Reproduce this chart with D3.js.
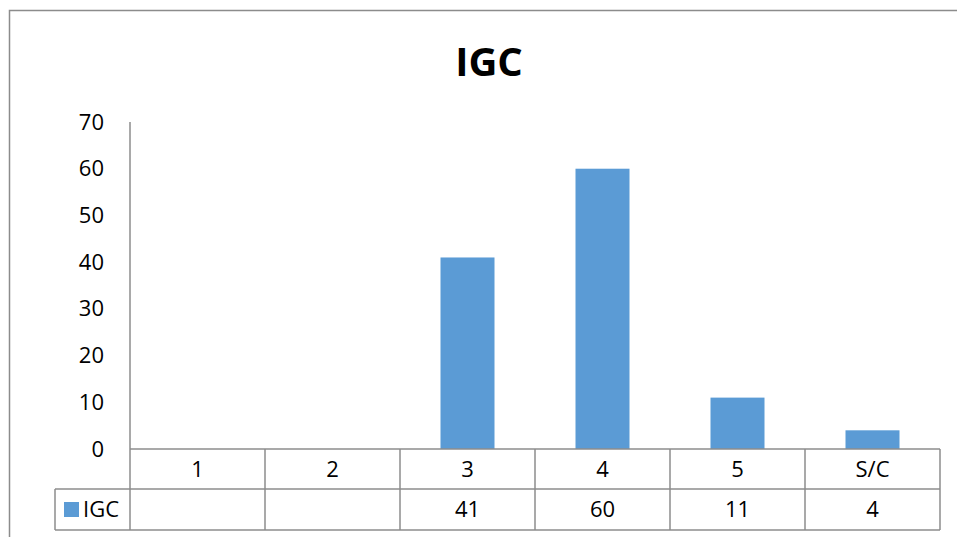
<!DOCTYPE html>
<html>
<head>
<meta charset="utf-8">
<script src="https://cdn.jsdelivr.net/npm/d3@7"></script>
<style>
  html, body { margin: 0; padding: 0; background: #fff; }
  svg { display: block; }
  text { font-family: "Open Sans", "Liberation Sans", sans-serif; fill: #000; }
</style>
</head>
<body>
<script>
// Series data
const categories = ["1", "2", "3", "4", "5", "S/C"];
const values = [null, null, 41, 60, 11, 4];
const seriesName = "IGC";
const chartTitle = "IGC";
const yTicks = [0, 10, 20, 30, 40, 50, 60, 70];

const W = 957, H = 537;
const gridColor = "#8c8c8c";
const barColor = "#5b9bd5";

const svg = d3.select("body").append("svg").attr("width", W).attr("height", H);

// Outer chart frame
svg.append("path")
  .attr("d", `M9.5,${H + 2}V10.5H${W + 2}`)
  .attr("fill", "none").attr("stroke", "#8c8c8c").attr("stroke-width", 1.5);

const plotLeft = 130, plotRight = 940, plotTop = 122, plotBase = 449;
const row1 = 489, row2 = 530, legendLeft = 55;

const xCell = d3.scaleBand().domain(categories).range([plotLeft, plotRight]).padding(0);
const xBar = d3.scaleBand().domain(categories).range([plotLeft, plotRight])
  .paddingInner(0.6).paddingOuter(0.3);
const y = d3.scaleLinear().domain([0, 70]).range([plotBase, plotTop]);

// Title
svg.append("text")
  .attr("x", 489).attr("y", 76)
  .attr("text-anchor", "middle")
  .attr("font-size", 40).attr("font-weight", "bold")
  .text(chartTitle);

// Value axis labels
const yAxis = d3.axisLeft(y).tickValues(yTicks).tickSize(0).tickPadding(26);
const gy = svg.append("g").attr("transform", `translate(${plotLeft},0)`).call(yAxis);
gy.select(".domain").remove();
gy.selectAll("text").attr("font-size", 22).attr("font-family", "Open Sans, sans-serif").attr("fill", "#000");

const rows = categories.map((c, i) => ({ c, v: values[i] })).filter(d => d.v != null);

// Bars
svg.append("g").selectAll("rect")
  .data(rows)
  .join("rect")
  .attr("x", d => xBar(d.c))
  .attr("width", xBar.bandwidth())
  .attr("y", d => y(d.v))
  .attr("height", d => y(0) - y(d.v))
  .attr("fill", barColor);

// Data table grid
const grid = svg.append("g").attr("stroke", gridColor).attr("stroke-width", 1.5).attr("fill", "none");
grid.append("line").attr("x1", plotLeft).attr("x2", plotLeft).attr("y1", plotTop).attr("y2", row2);
grid.append("line").attr("x1", plotLeft).attr("x2", plotRight).attr("y1", plotBase).attr("y2", plotBase);
grid.append("line").attr("x1", legendLeft).attr("x2", plotRight).attr("y1", row1).attr("y2", row1);
grid.append("line").attr("x1", legendLeft).attr("x2", plotRight).attr("y1", row2).attr("y2", row2);
grid.append("line").attr("x1", legendLeft).attr("x2", legendLeft).attr("y1", row1).attr("y2", row2);
grid.selectAll("line.sep")
  .data(categories)
  .join("line").attr("class", "sep")
  .attr("x1", d => xCell(d) + xCell.bandwidth()).attr("x2", d => xCell(d) + xCell.bandwidth())
  .attr("y1", plotBase).attr("y2", row2);

// Category labels row
svg.append("g").selectAll("text")
  .data(categories)
  .join("text")
  .attr("x", d => xCell(d) + xCell.bandwidth() / 2)
  .attr("y", (plotBase + row1) / 2)
  .attr("dy", "0.36em")
  .attr("text-anchor", "middle")
  .attr("font-size", 22)
  .text(d => d);

// Values row
svg.append("g").selectAll("text")
  .data(rows)
  .join("text")
  .attr("x", d => xCell(d.c) + xCell.bandwidth() / 2)
  .attr("y", (row1 + row2) / 2)
  .attr("dy", "0.36em")
  .attr("text-anchor", "middle")
  .attr("font-size", 22)
  .text(d => d.v);

// Legend key in table
svg.append("rect").attr("x", 64).attr("y", 502).attr("width", 15).attr("height", 15).attr("fill", barColor);
svg.append("text").attr("x", 83).attr("y", (row1 + row2) / 2).attr("dy", "0.36em")
  .attr("font-size", 22).text(seriesName);
</script>
</body>
</html>
